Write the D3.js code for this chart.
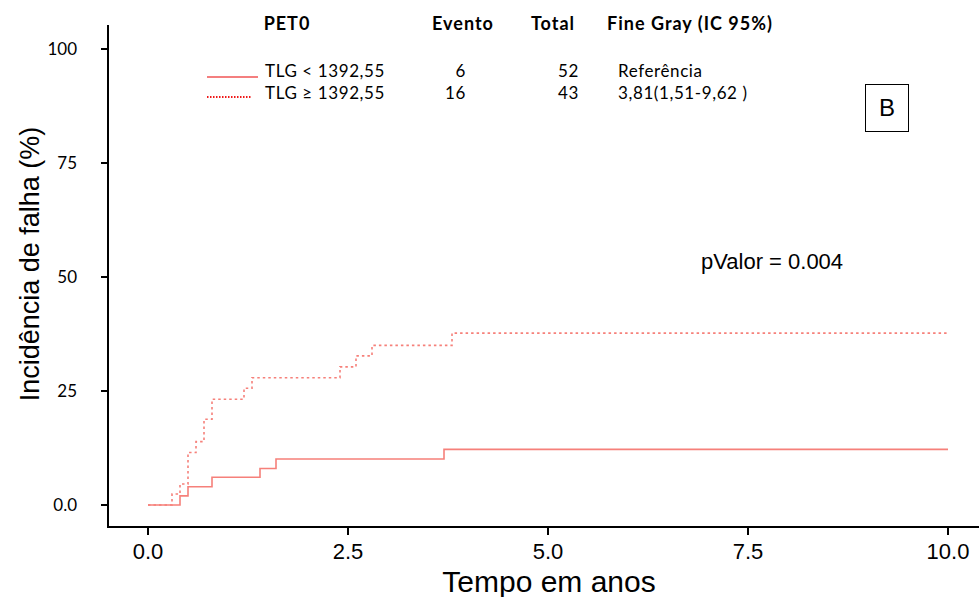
<!DOCTYPE html>
<html>
  <head>
    <meta charset="utf-8" />
    <style>
      body { margin: 0; background: #fff; }
      svg { display: block; }
      .gill { font-family: Lato, "Open Sans", sans-serif; }
      .arial { font-family: "Liberation Sans", Arial, sans-serif; }
    </style>
  </head>
  <body>
    <svg></svg>
    <script src="https://d3js.org/d3.v7.min.js"></script>
    <script>
      let width = 979,
        height = 597;

      // step curves: time in years, cumulative incidence %
      let lowTimes = [0, 0.4, 0.5, 0.8, 1.4, 1.6, 3.7, 10];
      let lowValues = [0, 2.0, 4.0, 6.1, 8.0, 10.1, 12.2, 12.2];
      let highTimes = [0, 0.3, 0.4, 0.5, 0.6, 0.7, 0.8, 1.2, 1.3, 2.4, 2.6, 2.8, 3.8, 10];
      let highValues = [0, 2.4, 4.6, 11.5, 13.9, 18.8, 23.2, 25.6, 27.9, 30.3, 32.7, 35.0, 37.7, 37.7];

      let xTicks = [0, 2.5, 5, 7.5, 10];
      let yTicks = [0, 25, 50, 75, 100];

      let headers = ["PET0", "Evento", "Total", "Fine Gray (IC 95%)"];
      let groups = ["TLG < 1392,55", "TLG \u2265 1392,55"];
      let events = ["6", "16"];
      let totals = ["52", "43"];
      let fineGray = ["Refer\u00eancia", "3,81(1,51-9,62 )"];

      let svg = d3.select("svg").attr("width", width).attr("height", height);

      let x = d3.scaleLinear().domain([0, 10]).range([148, 948]);
      let y = d3.scaleLinear().domain([0, 100]).range([505, 49]);

      let lineColor = "#f6807a";

      // axes
      svg.append("line")
        .attr("x1", 108).attr("x2", 108).attr("y1", 25).attr("y2", 528)
        .attr("stroke", "#000").attr("stroke-width", 2);
      svg.append("line")
        .attr("x1", 107).attr("x2", width).attr("y1", 527).attr("y2", 527)
        .attr("stroke", "#000").attr("stroke-width", 2);

      let yg = svg.append("g");
      yg.selectAll("line").data(yTicks).enter().append("line")
        .attr("x1", 101).attr("x2", 108)
        .attr("y1", (d) => y(d)).attr("y2", (d) => y(d))
        .attr("stroke", "#000").attr("stroke-width", 2);
      yg.selectAll("text").data(yTicks).enter().append("text")
        .attr("class", "gill")
        .attr("x", 77).attr("y", (d) => y(d) + 6)
        .attr("text-anchor", "end")
        .attr("font-size", 17)
        .text((d) => (d === 0 ? "0.0" : d));

      let xg = svg.append("g");
      xg.selectAll("line").data(xTicks).enter().append("line")
        .attr("x1", (d) => x(d)).attr("x2", (d) => x(d))
        .attr("y1", 527).attr("y2", 535)
        .attr("stroke", "#000").attr("stroke-width", 2);
      xg.selectAll("text").data(xTicks).enter().append("text")
        .attr("class", "arial")
        .attr("x", (d) => x(d)).attr("y", 559)
        .attr("text-anchor", "middle")
        .attr("font-size", 22)
        .text((d) => d3.format(".1f")(d));

      svg.append("text")
        .attr("class", "arial")
        .attr("x", 549).attr("y", 592)
        .attr("text-anchor", "middle")
        .attr("font-size", 30)
        .text("Tempo em anos");
      svg.append("text")
        .attr("class", "arial")
        .attr("transform", "translate(39,264) rotate(-90)")
        .attr("text-anchor", "middle")
        .attr("font-size", 27)
        .text("Incid\u00eancia de falha (%)");

      // curves
      let step = d3.line()
        .x((d) => x(d[0]))
        .y((d) => y(d[1]))
        .curve(d3.curveStepAfter);

      svg.append("path")
        .datum(lowTimes.map((t, i) => [t, lowValues[i]]))
        .attr("d", step)
        .attr("fill", "none")
        .attr("stroke", lineColor)
        .attr("stroke-width", 1.6);
      svg.append("path")
        .datum(highTimes.map((t, i) => [t, highValues[i]]))
        .attr("d", step)
        .attr("fill", "none")
        .attr("stroke", lineColor)
        .attr("stroke-width", 1.6)
        .attr("stroke-dasharray", "2.5,3");

      // legend table
      let headerX = [287, 463, 553, 690];
      svg.append("g").selectAll("text").data(headers).enter().append("text")
        .attr("class", "gill")
        .attr("x", (d, i) => headerX[i]).attr("y", 30)
        .attr("text-anchor", "middle")
        .attr("font-size", 18)
        .attr("font-weight", "bold")
        .attr("letter-spacing", 1)
        .text((d) => d);

      let rowY = [77, 99];
      let leg = svg.append("g");
      leg.selectAll("line").data(groups).enter().append("line")
        .attr("x1", 207).attr("x2", (d, i) => (i === 0 ? 258 : 252))
        .attr("y1", (d, i) => (i === 0 ? 77 : 97)).attr("y2", (d, i) => (i === 0 ? 77 : 97))
        .attr("stroke", (d, i) => (i === 0 ? "#f05555" : "#f01818"))
        .attr("stroke-width", (d, i) => (i === 0 ? 1.4 : 2))
        .attr("stroke-dasharray", (d, i) => (i === 0 ? null : "1.5,1.5"));

      let cell = (vals, xp, anchor) =>
        leg.append("g").selectAll("text").data(vals).enter().append("text")
          .attr("class", "gill")
          .attr("x", xp).attr("y", (d, i) => rowY[i])
          .attr("text-anchor", anchor)
          .attr("font-size", 17)
          .attr("letter-spacing", 0.6)
          .text((d) => d);
      cell(groups, 265, "start");
      cell(events, 466, "end");
      cell(totals, 579, "end");
      cell(fineGray, 618, "start");

      // panel letter
      svg.append("rect")
        .attr("x", 865.5).attr("y", 84.5).attr("width", 43).attr("height", 47)
        .attr("fill", "none").attr("stroke", "#000").attr("stroke-width", 1);
      svg.append("text")
        .attr("class", "arial")
        .attr("x", 887).attr("y", 116)
        .attr("text-anchor", "middle")
        .attr("font-size", 24)
        .text("B");

      svg.append("text")
        .attr("class", "arial")
        .attr("x", 701).attr("y", 269)
        .attr("font-size", 22)
        .text("pValor = 0.004");
    </script>
  </body>
</html>
